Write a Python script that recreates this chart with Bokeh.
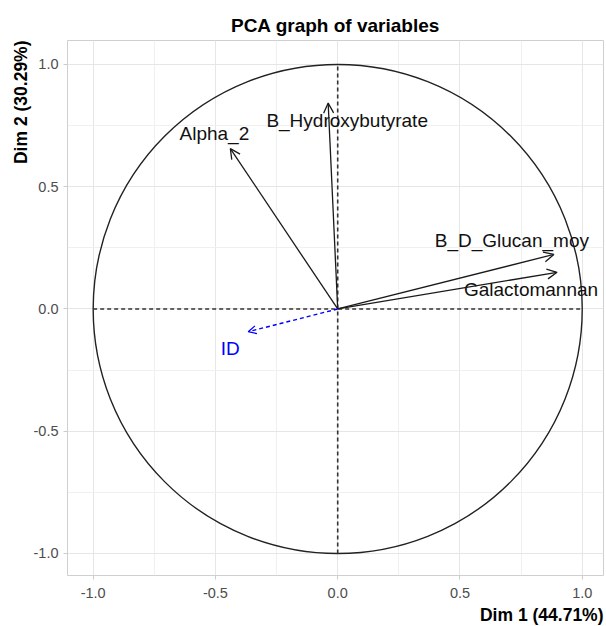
from bokeh.plotting import figure
from bokeh.models import (ColumnDataSource, Arrow, OpenHead, FixedTicker, Title,
                          Range1d)
from bokeh.core.properties import value
from bokeh.embed import file_html
from bokeh.resources import INLINE

# ---- data ----
variables = ["B_Hydroxybutyrate", "Alpha_2", "B_D_Glucan_moy", "Galactomannan"]
dim1 = [-0.039, -0.439, 0.884, 0.897]
dim2 = [0.842, 0.656, 0.223, 0.150]

sup_variables = ["ID"]
sup_dim1 = [-0.366]
sup_dim2 = [-0.093]

ticks = [-1.0, -0.5, 0.0, 0.5, 1.0]
minor_ticks = [-0.75, -0.25, 0.25, 0.75]
tick_labels = ["-1.0", "-0.5", "0.0", "0.5", "1.0"]

title_text = "PCA graph of variables"
xlab = "Dim 1 (44.71%)"
ylab = "Dim 2 (30.29%)"

# label offsets in screen pixels (layout, not data)
label_dx = [19, -16, -42, -26]
label_dy = [17, -15, -14, 17]
sup_label_dx = [-18]
sup_label_dy = [17]

FONT = "Liberation Sans"
R = 1.0

p = figure(width=606, height=626,
           x_range=Range1d(-1.105, 1.087), y_range=Range1d(-1.09, 1.098),
           output_backend="svg", toolbar_location=None,
           min_border_left=67, min_border_right=3, min_border_top=40,
           min_border_bottom=50)

p.title.text = title_text
p.title.align = "center"
p.title.text_font = FONT
p.title.text_font_size = "19px"
p.title.text_font_style = "bold"
p.title.text_color = "#000000"
p.title.standoff = 9

p.add_layout(Title(text=xlab, align="right", text_font=FONT, text_font_size="17.5px",
                   text_font_style="bold", text_color="#000000", standoff=4), "below")
p.add_layout(Title(text=ylab, align="right", text_font=FONT, text_font_size="17.5px",
                   text_font_style="bold", text_color="#000000", standoff=0), "left")

for ax in (p.xaxis, p.yaxis):
    ax.ticker = FixedTicker(ticks=ticks, minor_ticks=minor_ticks)
    ax.major_label_overrides = dict(zip(ticks, tick_labels))
    ax.major_label_text_font = FONT
    ax.major_label_text_font_size = "14.5px"
    ax.major_label_text_color = "#4D4D4D"
    ax.axis_line_color = None
    ax.major_tick_line_color = "#CCCCCC"
    ax.major_tick_out = 4
    ax.major_tick_in = 0
    ax.minor_tick_line_color = None
p.xaxis.major_label_standoff = 8
p.yaxis.major_label_standoff = 5

p.grid.grid_line_color = "#E6E6E6"
p.grid.minor_grid_line_color = "#F0F0F0"
p.outline_line_color = "#CFCFCF"
p.outline_line_width = 1
p.background_fill_color = "white"
p.border_fill_color = "white"

# correlation circle
p.ellipse(x=[0], y=[0], width=[2 * R], height=[2 * R], fill_color=None,
          line_color="#222222", line_width=1.4)

# dashed axes through origin
p.segment(x0=[-R, 0], y0=[0, -R], x1=[R, 0], y1=[0, R],
          line_color="#333333", line_width=1.6, line_dash="4 3")

n = len(variables)
src = ColumnDataSource(dict(x0=[0] * n, y0=[0] * n, x1=dim1, y1=dim2,
                            name=variables, dx=label_dx, dy=label_dy))
p.add_layout(Arrow(end=OpenHead(size=10, line_color="#1A1A1A", line_width=1.3),
                   x_start="x0", y_start="y0", x_end="x1", y_end="y1",
                   source=src, line_color="#1A1A1A", line_width=1.3))
p.text(x="x1", y="y1", text="name", x_offset="dx", y_offset="dy", source=src,
       text_align="center", text_baseline="middle", text_font=value(FONT),
       text_font_size="19px", text_color="#111111")

m = len(sup_variables)
ssrc = ColumnDataSource(dict(x0=[0] * m, y0=[0] * m, x1=sup_dim1, y1=sup_dim2,
                             name=sup_variables, dx=sup_label_dx, dy=sup_label_dy))
p.add_layout(Arrow(end=OpenHead(size=8, line_color="#0000FF", line_width=1.3),
                   x_start="x0", y_start="y0", x_end="x1", y_end="y1",
                   source=ssrc, line_color="#0000FF", line_width=1.4,
                   line_dash="4 3"))
p.text(x="x1", y="y1", text="name", x_offset="dx", y_offset="dy", source=ssrc,
       text_align="center", text_baseline="middle", text_font=value(FONT),
       text_font_size="19px", text_color="#0000FF")

open("out.html", "w").write(file_html(p, INLINE))
